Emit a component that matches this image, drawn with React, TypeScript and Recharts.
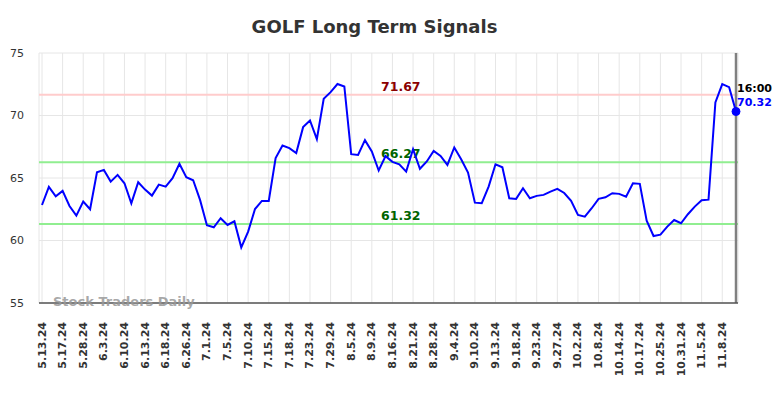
import React from 'react';
import { LineChart, Line, XAxis, YAxis, CartesianGrid, ReferenceLine } from 'recharts';

const tickLabels = ['5.13.24','5.17.24','5.28.24','6.3.24','6.10.24','6.13.24','6.18.24','6.26.24','7.1.24','7.5.24','7.10.24','7.15.24','7.18.24','7.23.24','7.29.24','8.5.24','8.9.24','8.16.24','8.21.24','8.28.24','9.4.24','9.10.24','9.13.24','9.18.24','9.23.24','9.27.24','10.2.24','10.8.24','10.14.24','10.17.24','10.25.24','10.31.24','11.5.24','11.8.24'];

const prices = [
  62.84, 64.29, 63.54, 63.97, 62.76, 61.99, 63.11, 62.50, 65.46, 65.65,
  64.71, 65.25, 64.58, 62.98, 64.66, 64.07, 63.59, 64.47, 64.31, 64.98,
  66.13, 65.06, 64.82, 63.25, 61.22, 61.06, 61.78, 61.24, 61.54, 59.45,
  60.71, 62.52, 63.17, 63.17, 66.59, 67.60, 67.39, 66.99, 69.07, 69.60,
  68.11, 71.34, 71.87, 72.52, 72.32, 66.91, 66.85, 68.03, 67.12, 65.60,
  66.75, 66.29, 66.10, 65.51, 67.30, 65.74, 66.32, 67.17, 66.77, 66.05,
  67.44, 66.50, 65.43, 63.03, 62.98, 64.31, 66.10, 65.86, 63.38, 63.33,
  64.18, 63.38, 63.57, 63.65, 63.91, 64.13, 63.80, 63.17, 62.04, 61.91,
  62.58, 63.33, 63.46, 63.78, 63.73, 63.51, 64.58, 64.53, 61.59, 60.36,
  60.47, 61.11, 61.64, 61.38, 62.10, 62.71, 63.22, 63.27, 71.04, 72.51,
  72.27, 70.32,
];

const yTicks = [55, 60, 65, 70, 75];
const resistance = 71.67;
const midLevel = 66.27;
const support = 61.32;
const lastTime = '16:00';
const title = 'GOLF Long Term Signals';
const watermark = 'Stock Traders Daily';

const TICK_STEP = 3;
const data = prices.map((v, i) => ({ i, v }));
const xTicks = tickLabels.map((_, k) => k * TICK_STEP);
const lastIndex = prices.length - 1;

const FONT = '"DejaVu Sans", sans-serif';

const XTick = (props: any) => {
  const { x, y, payload } = props;
  const label = tickLabels[Math.round(payload.value / TICK_STEP)];
  return (
    <text
      x={x}
      y={y + 19}
      transform={`rotate(-90, ${x}, ${y + 19})`}
      textAnchor="end"
      dominantBaseline="central"
      fontFamily={FONT}
      fontSize={11}
      fontWeight="bold"
      fill="#333"
    >
      {label}
    </text>
  );
};

const YTick = (props: any) => {
  const { x, y, payload } = props;
  return (
    <text x={x - 15} y={y} textAnchor="end" dominantBaseline="central" fontFamily={FONT} fontSize={11} fill="#333">
      {payload.value}
    </text>
  );
};

const levelLabel = (text: string, color: string) => (props: any) => {
  const vb = props.viewBox || {};
  return (
    <text x={(vb.x || 0) + 342} y={(vb.y || 0) - 4} fontFamily={FONT} fontSize={12.5} fontWeight="bold" fill={color}>
      {text}
    </text>
  );
};

const LastDot = (props: any) => {
  const { cx, cy, index } = props;
  if (index !== lastIndex) return <g key={`d${index}`} />;
  return (
    <g key={`d${index}`}>
      <circle cx={cx} cy={cy} r={4} fill="#0000ff" stroke="#0000ff" />
      <text x={cx + 1} y={cy - 19.5} fontFamily={FONT} fontSize={11} fontWeight="bold" fill="#000">
        {lastTime}
      </text>
      <text x={cx + 1} y={cy - 6} fontFamily={FONT} fontSize={11} fontWeight="bold" fill="#0000ff">
        {prices[lastIndex].toFixed(2)}
      </text>
    </g>
  );
};

export default function App() {
  return (
    <div style={{ position: 'absolute', left: 0, top: 0, width: 784, height: 398, background: '#fff' }}>
      <LineChart width={784} height={398} data={data} margin={{ top: 53, right: 46, bottom: 0, left: 0 }}>
        <CartesianGrid stroke="#e6e6e6" strokeWidth={1} />
        <XAxis
          dataKey="i"
          type="number"
          domain={[0, lastIndex]}
          ticks={xTicks}
          interval={0}
          padding={{ left: 3, right: 2 }}
          height={95}
          tickSize={0}
          tickMargin={0}
          tickLine={false}
          axisLine={{ stroke: '#555', strokeWidth: 1.5 }}
          tick={<XTick />}
        />
        <YAxis
          type="number"
          domain={[55, 75]}
          ticks={yTicks}
          width={39}
          tickSize={0}
          tickMargin={0}
          tickLine={false}
          axisLine={false}
          tick={<YTick />}
        />
        <ReferenceLine y={resistance} stroke="#ffcccc" strokeWidth={2} label={levelLabel(resistance.toFixed(2), '#8b0000')} />
        <ReferenceLine y={midLevel} stroke="#90ee90" strokeWidth={2} label={levelLabel(midLevel.toFixed(2), '#006400')} />
        <ReferenceLine y={support} stroke="#90ee90" strokeWidth={2} label={levelLabel(support.toFixed(2), '#006400')} />
        <ReferenceLine x={lastIndex} stroke="#808080" strokeWidth={2.5} />
        <Line
          type="linear"
          dataKey="v"
          stroke="#0000ff"
          strokeWidth={2}
          dot={LastDot}
          activeDot={false}
          isAnimationActive={false}
        />
      </LineChart>
      <svg width={784} height={398} style={{ position: 'absolute', left: 0, top: 0, pointerEvents: 'none' }}>
        <text x={374.5} y={33} textAnchor="middle" fontFamily={FONT} fontSize={18} fontWeight="bold" fill="#333">
          {title}
        </text>
        <text x={53} y={306} fontFamily={FONT} fontSize={13} fontWeight="bold" fill="#999" fillOpacity={0.85}>
          {watermark}
        </text>
      </svg>
    </div>
  );
}
